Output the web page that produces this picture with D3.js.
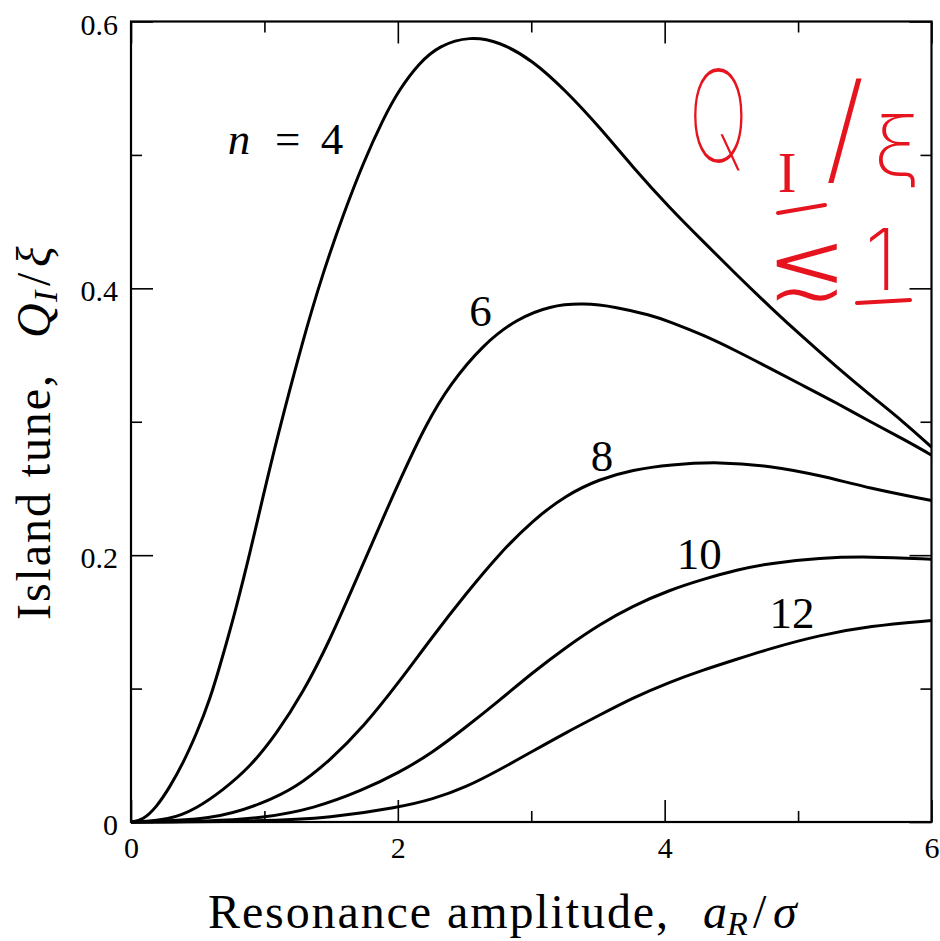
<!DOCTYPE html>
<html>
<head>
<meta charset="utf-8">
<script src="https://cdn.jsdelivr.net/npm/d3@7"></script>
<style>
  html, body { margin: 0; padding: 0; background: #fff; }
  svg { display: block; }
  .serif { font-family: "Liberation Serif", "Times New Roman", serif; }
</style>
</head>
<body>
<svg id="chart" width="940" height="941"></svg>
<script>
// ---------------- data ----------------
const seriesNames = ["4", "6", "8", "10", "12"];

const xN4 = [0, 0.09, 0.19, 0.29, 0.39, 0.49, 0.59, 0.69, 0.79, 0.89, 0.99, 1.09, 1.29, 1.44, 1.59, 1.74, 1.89, 2.01, 2.16, 2.31, 2.54, 2.76, 3.01, 3.26, 3.51, 3.76, 4.04, 4.29, 4.54, 4.79, 5.04, 5.29, 5.54, 5.79, 6.0];
const yN4 = [0, 0.0015, 0.011, 0.026, 0.044, 0.066, 0.091, 0.125, 0.161, 0.201, 0.244, 0.286, 0.362, 0.412, 0.455, 0.494, 0.527, 0.549, 0.569, 0.582, 0.589, 0.585, 0.571, 0.548, 0.521, 0.491, 0.460, 0.435, 0.410, 0.386, 0.363, 0.341, 0.320, 0.300, 0.281];

const xN6 = [0, 0.29, 0.49, 0.69, 0.89, 1.09, 1.29, 1.49, 1.69, 1.89, 2.01, 2.21, 2.39, 2.64, 2.89, 3.14, 3.39, 3.64, 3.89, 4.04, 4.29, 4.54, 4.79, 5.04, 5.29, 5.54, 5.79, 6.0];
const yN6 = [0, 0.0015, 0.010, 0.024, 0.041, 0.066, 0.097, 0.136, 0.182, 0.228, 0.255, 0.298, 0.328, 0.358, 0.377, 0.387, 0.389, 0.386, 0.380, 0.375, 0.365, 0.353, 0.340, 0.327, 0.314, 0.300, 0.287, 0.275];

const xN8 = [0, 0.62, 0.99, 1.24, 1.49, 1.74, 2.01, 2.26, 2.51, 2.76, 3.01, 3.26, 3.51, 3.76, 4.04, 4.41, 4.79, 5.16, 5.54, 6.0];
const yN8 = [0, 0.0015, 0.014, 0.026, 0.046, 0.071, 0.105, 0.139, 0.171, 0.201, 0.226, 0.245, 0.257, 0.264, 0.268, 0.270, 0.267, 0.260, 0.250, 0.241];

const xN10 = [0, 0.6, 0.99, 1.37, 1.74, 2.01, 2.26, 2.51, 2.76, 3.01, 3.26, 3.51, 3.76, 4.04, 4.29, 4.54, 4.79, 5.16, 5.54, 6.0];
const yN10 = [0, 0.0005, 0.003, 0.010, 0.024, 0.037, 0.052, 0.071, 0.091, 0.112, 0.131, 0.148, 0.162, 0.174, 0.182, 0.189, 0.194, 0.198, 0.199, 0.197];

const xN12 = [0, 1.0, 1.49, 2.01, 2.26, 2.51, 2.76, 3.01, 3.26, 3.51, 3.76, 4.04, 4.29, 4.54, 4.79, 5.16, 5.54, 6.0];
const yN12 = [0, 0.0005, 0.003, 0.011, 0.017, 0.026, 0.039, 0.053, 0.067, 0.080, 0.093, 0.105, 0.114, 0.122, 0.130, 0.140, 0.147, 0.151];

// curve label anchor points (data coordinates)
const labelX = [1.16, 2.62, 3.53, 4.26, 4.955];
const labelY = [0.5004, 0.372, 0.263, 0.1895, 0.1453];

const xMajorTicks = [0, 2, 4, 6];
const xMinorTicks = [1, 3, 5];
const yMajorTicks = [0, 0.2, 0.4, 0.6];
const yMinorTicks = [0.1, 0.3, 0.5];
const yTickLabels = ["0", "0.2", "0.4", "0.6"];
const xTickLabels = ["0", "2", "4", "6"];

const xTitle = "Resonance amplitude,";
const yTitle = "Island tune,";

// ---------------- chart ----------------
const svg = d3.select("#chart");
svg.append("rect").attr("width", 940).attr("height", 941).attr("fill", "#fff");

const x = d3.scaleLinear().domain([0, 6]).range([131, 931.5]);
const y = d3.scaleLinear().domain([0, 0.6]).range([822, 21.5]);

const series = [
  {name: seriesNames[0], xs: xN4, ys: yN4},
  {name: seriesNames[1], xs: xN6, ys: yN6},
  {name: seriesNames[2], xs: xN8, ys: yN8},
  {name: seriesNames[3], xs: xN10, ys: yN10},
  {name: seriesNames[4], xs: xN12, ys: yN12}
];

const line = d3.line()
  .x(d => x(d[0]))
  .y(d => y(d[1]))
  .curve(d3.curveBasis);

const plot = svg.append("g");
plot.selectAll("path.curve")
  .data(series)
  .join("path")
  .attr("class", "curve")
  .attr("fill", "none")
  .attr("stroke", "#000")
  .attr("stroke-width", 3)
  .attr("stroke-linejoin", "round")
  .attr("d", s => line(s.xs.map((v, i) => [v, s.ys[i]])));

// axes (ticks inside, mirrored)
function styleAxis(g, fontSize) {
  g.attr("font-family", null).attr("font-size", null);
  g.select(".domain").remove();
  g.selectAll(".tick line").attr("stroke", "#000").attr("stroke-width", 1.6);
  g.selectAll(".tick text")
    .attr("fill", "#000")
    .style("font-family", '"Liberation Serif", "Times New Roman", serif')
    .style("font-size", fontSize + "px");
}

const bottomMajor = svg.append("g").attr("transform", `translate(0,${y(0)})`)
  .call(d3.axisBottom(x).tickValues(xMajorTicks).tickSizeInner(-22).tickSizeOuter(0).tickPadding(15)
    .tickFormat((d, i) => xTickLabels[i]));
styleAxis(bottomMajor, 30);
const bottomMinor = svg.append("g").attr("transform", `translate(0,${y(0)})`)
  .call(d3.axisBottom(x).tickValues(xMinorTicks).tickSizeInner(-11).tickSizeOuter(0).tickFormat(""));
styleAxis(bottomMinor, 30);

const topMajor = svg.append("g").attr("transform", `translate(0,${y(0.6)})`)
  .call(d3.axisTop(x).tickValues(xMajorTicks).tickSizeInner(-22).tickSizeOuter(0).tickFormat(""));
styleAxis(topMajor, 30);
const topMinor = svg.append("g").attr("transform", `translate(0,${y(0.6)})`)
  .call(d3.axisTop(x).tickValues(xMinorTicks).tickSizeInner(-11).tickSizeOuter(0).tickFormat(""));
styleAxis(topMinor, 30);

const leftMajor = svg.append("g").attr("transform", `translate(${x(0)},0)`)
  .call(d3.axisLeft(y).tickValues(yMajorTicks).tickSizeInner(-22).tickSizeOuter(0).tickPadding(13)
    .tickFormat((d, i) => yTickLabels[i]));
styleAxis(leftMajor, 30);
leftMajor.selectAll(".tick text").attr("dy", "0.42em");
const leftMinor = svg.append("g").attr("transform", `translate(${x(0)},0)`)
  .call(d3.axisLeft(y).tickValues(yMinorTicks).tickSizeInner(-11).tickSizeOuter(0).tickFormat(""));
styleAxis(leftMinor, 30);

const rightMajor = svg.append("g").attr("transform", `translate(${x(6)},0)`)
  .call(d3.axisRight(y).tickValues(yMajorTicks).tickSizeInner(-22).tickSizeOuter(0).tickFormat(""));
styleAxis(rightMajor, 30);
const rightMinor = svg.append("g").attr("transform", `translate(${x(6)},0)`)
  .call(d3.axisRight(y).tickValues(yMinorTicks).tickSizeInner(-11).tickSizeOuter(0).tickFormat(""));
styleAxis(rightMinor, 30);

// frame
svg.append("rect")
  .attr("x", x(0)).attr("y", y(0.6))
  .attr("width", x(6) - x(0)).attr("height", y(0) - y(0.6))
  .attr("fill", "none").attr("stroke", "#000").attr("stroke-width", 2.2);

// curve labels
const labG = svg.append("g").attr("class", "serif").attr("font-size", 45).attr("fill", "#000");
{
  const bx = x(labelX[0]), by = y(labelY[0]);
  labG.append("text").attr("x", bx - 58).attr("y", by).attr("font-style", "italic").text("n");
  labG.append("text").attr("x", bx + 2).attr("y", by).attr("text-anchor", "middle").text("=");
  labG.append("text").attr("x", bx + 35).attr("y", by).text(seriesNames[0]);
}
for (let i = 1; i < seriesNames.length; i++) {
  labG.append("text")
    .attr("x", x(labelX[i])).attr("y", y(labelY[i]))
    .attr("text-anchor", "middle")
    .text(seriesNames[i]);
}

// x axis title
const xt = svg.append("g").attr("class", "serif").attr("font-size", 48).attr("fill", "#000");
xt.append("text").attr("x", 208).attr("y", 928).attr("textLength", 460).attr("lengthAdjust", "spacing").text(xTitle);
xt.append("text").attr("x", 703).attr("y", 928).attr("font-style", "italic").text("a");
xt.append("text").attr("x", 727).attr("y", 935).attr("font-style", "italic").attr("font-size", 34).text("R");
xt.append("text").attr("x", 753).attr("y", 928).text("/");
xt.append("text").attr("x", 773).attr("y", 928).attr("font-style", "italic").text("σ");

// y axis title (rotated)
const yt = svg.append("g").attr("class", "serif").attr("font-size", 48).attr("fill", "#000")
  .attr("transform", "rotate(-90)");
yt.append("text").attr("x", -620).attr("y", 50).attr("textLength", 245).attr("lengthAdjust", "spacing").text(yTitle);
yt.append("text").attr("x", -338).attr("y", 50).attr("font-style", "italic").text("Q");
yt.append("text").attr("x", -302).attr("y", 57).attr("font-style", "italic").attr("font-size", 34).text("I");
yt.append("text").attr("x", -286).attr("y", 50).text("/");
yt.append("text").attr("x", -267).attr("y", 50).attr("font-style", "italic").text("ξ");

// red handwritten note
const red = "#e5141e";
const note = svg.append("g").attr("fill", red);
note.append("text")
  .attr("transform", "translate(688,163) scale(0.62,1)")
  .style("font-family", "Inter, Roboto, 'Liberation Sans', sans-serif")
  .style("font-weight", 200)
  .attr("stroke", "#fff").attr("stroke-width", 2)
  .attr("font-size", 130).text("Q");
note.append("text").attr("x", 787).attr("y", 192).attr("text-anchor", "middle")
  .style("font-family", "'Liberation Serif', serif").attr("font-size", 56).text("I");
note.append("text").attr("x", 845).attr("y", 170).attr("text-anchor", "middle")
  .style("font-family", "Inter, Roboto, 'Liberation Sans', sans-serif").style("font-weight", 200)
  .attr("font-size", 120).text("/");
note.append("text").attr("x", 873).attr("y", 176)
  .style("font-family", "Inter, 'DejaVu Sans', sans-serif").style("font-weight", 200)
  .attr("font-size", 85).text("ξ");
note.append("text").attr("x", 807).attr("y", 298).attr("text-anchor", "middle")
  .style("font-family", "'DejaVu Sans', sans-serif")
  .attr("stroke", "#fff").attr("stroke-width", 2)
  .attr("transform", "translate(807,298) scale(1.25,1.2) translate(-807,-298)")
  .attr("font-size", 80).text("≲");
note.append("text").attr("x", 881).attr("y", 290).attr("text-anchor", "middle")
  .style("font-family", "Inter, Roboto, 'Liberation Sans', sans-serif").style("font-weight", 200)
  .attr("font-size", 85).text("1");
const strokes = [[[778, 213], [825, 205]], [[857, 303], [910, 300]]];
svg.append("g").selectAll("path.note")
  .data(strokes).join("path")
  .attr("fill", "none").attr("stroke", red).attr("stroke-width", 4).attr("stroke-linecap", "round")
  .attr("d", d => d3.line()(d));
</script>
</body>
</html>
